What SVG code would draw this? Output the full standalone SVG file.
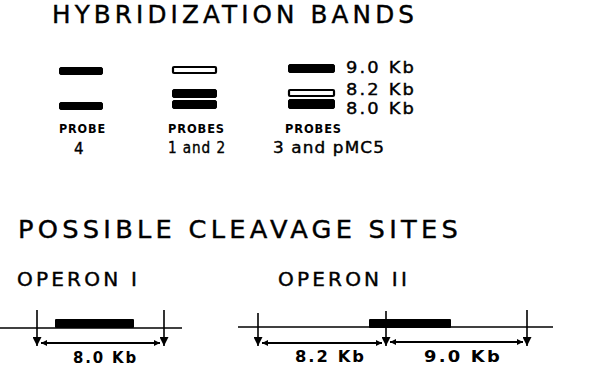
<svg xmlns="http://www.w3.org/2000/svg" width="592" height="366" viewBox="0 0 592 366">
<defs>
<style>
text{font-family:"DejaVu Sans","Liberation Sans",Arial,sans-serif;fill:#000}
.t{font-size:24px;stroke:#000;stroke-width:0.4;letter-spacing:4px}
.kb{font-size:16.5px;stroke:#000;stroke-width:0.4;letter-spacing:2px}
.pl{font-size:13px;font-weight:bold;letter-spacing:1px}
.pn{font-size:15px;stroke:#000;stroke-width:0.4;letter-spacing:1px}
.op{font-size:19px;stroke:#000;stroke-width:0.4;letter-spacing:3px}
.len{font-size:16px;font-weight:bold;letter-spacing:2px}
.band{fill:#000;stroke:#000;stroke-width:1}
.open{fill:#fff;stroke:#000;stroke-width:2.2}
.dna{stroke:#000;stroke-width:1.6;fill:none}
.gene{fill:#000}
.cut{stroke:#000;stroke-width:1.6;fill:none;marker-end:url(#dn)}
.dim{stroke:#000;stroke-width:1.8;fill:none;marker-start:url(#ah);marker-end:url(#ah)}
</style>
<marker id="dn" viewBox="0 0 10 10" refX="10" refY="5" markerWidth="9" markerHeight="9" markerUnits="userSpaceOnUse" orient="auto">
<path d="M0,0 L10,5 L0,10 Z" fill="#000"/>
</marker>
<marker id="ah" viewBox="0 0 10 10" refX="10" refY="5" markerWidth="9" markerHeight="6" markerUnits="userSpaceOnUse" orient="auto-start-reverse">
<path d="M0,0 L10,5 L0,10 Z" fill="#000"/>
</marker>
</defs>
<text class="t" x="52" y="23" textLength="366" lengthAdjust="spacingAndGlyphs">HYBRIDIZATION BANDS</text>
<g id="probe4">
<rect class="band" x="59.5" y="67.5" width="43" height="7" rx="1.5"/>
<rect class="band" x="59.5" y="102.5" width="43" height="7" rx="1.5"/>
<text class="pl" x="59" y="133" textLength="47" lengthAdjust="spacingAndGlyphs">PROBE</text>
<text class="pn" x="74" y="154">4</text>
</g>
<g id="probes12">
<rect class="open" x="173" y="67" width="43" height="6" rx="1"/>
<rect class="band" x="172.5" y="89.5" width="44" height="8" rx="1.5"/>
<rect class="band" x="172.5" y="100.5" width="44" height="8" rx="1.5"/>
<text class="pl" x="168" y="133" textLength="57" lengthAdjust="spacingAndGlyphs">PROBES</text>
<text class="pn" x="168" y="153" textLength="58" lengthAdjust="spacingAndGlyphs">1 and 2</text>
</g>
<g id="probes3">
<rect class="band" x="288.5" y="64.5" width="46" height="8" rx="1.5"/>
<rect class="open" x="289" y="90" width="45" height="6" rx="1"/>
<rect class="band" x="288.5" y="99.5" width="46" height="9" rx="1.5"/>
<text class="pl" x="285" y="133" textLength="57" lengthAdjust="spacingAndGlyphs">PROBES</text>
<text class="pn" x="273" y="153" textLength="112" lengthAdjust="spacingAndGlyphs">3 and pMC5</text>
<text class="kb" x="346" y="73" textLength="70" lengthAdjust="spacingAndGlyphs">9.0 Kb</text>
<text class="kb" x="346" y="95" textLength="70" lengthAdjust="spacingAndGlyphs">8.2 Kb</text>
<text class="kb" x="346" y="114" textLength="70" lengthAdjust="spacingAndGlyphs">8.0 Kb</text>
</g>
<text class="t" x="18" y="238" textLength="444" lengthAdjust="spacingAndGlyphs">POSSIBLE CLEAVAGE SITES</text>
<g id="operon1">
<text class="op" x="17" y="286" textLength="123" lengthAdjust="spacingAndGlyphs">OPERON I</text>
<line class="dna" x1="0" y1="328" x2="182" y2="328"/>
<rect class="gene" x="55" y="319" width="79" height="9" rx="1"/>
<text class="len" x="73" y="363" textLength="65" lengthAdjust="spacingAndGlyphs">8.0 Kb</text>
</g>
<g id="operon2">
<text class="op" x="278" y="286" textLength="132" lengthAdjust="spacingAndGlyphs">OPERON II</text>
<line class="dna" x1="238" y1="327" x2="553" y2="327"/>
<rect class="gene" x="369" y="319" width="82" height="9" rx="1"/>
<text class="len" x="295" y="362" textLength="71" lengthAdjust="spacingAndGlyphs">8.2 Kb</text>
<text class="len" x="424" y="362" textLength="78" lengthAdjust="spacingAndGlyphs">9.0 Kb</text>
</g>
<g id="connectors">
<line class="cut" x1="37" y1="310" x2="37" y2="346"/>
<line class="cut" x1="164" y1="310" x2="164" y2="346"/>
<line class="dim" x1="41" y1="343" x2="160" y2="343"/>
<line class="cut" x1="258" y1="313" x2="258" y2="346"/>
<line class="cut" x1="386" y1="311" x2="386" y2="346"/>
<line class="cut" x1="527" y1="310" x2="527" y2="346"/>
<line class="dim" x1="262" y1="343" x2="382" y2="343"/>
<line class="dim" x1="390" y1="342" x2="523" y2="342"/>
</g>
</svg>
